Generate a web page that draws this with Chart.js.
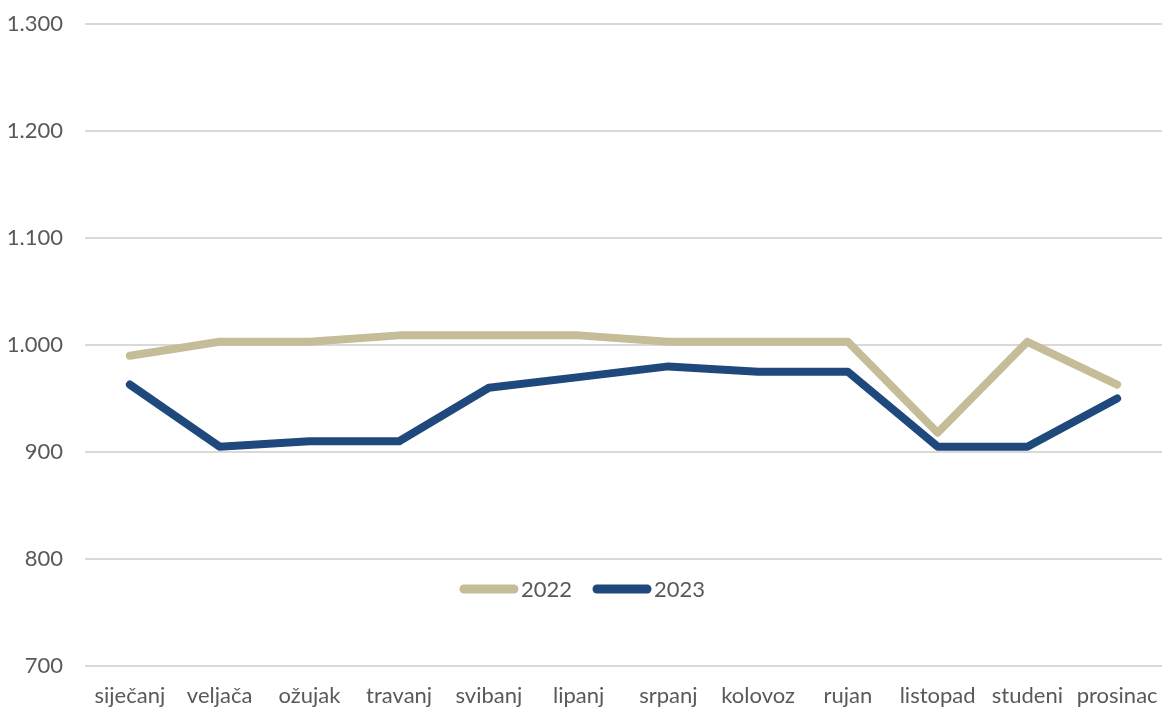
<!DOCTYPE html>
<html><head><meta charset="utf-8">
<script src="https://cdn.jsdelivr.net/npm/chart.js@4/dist/chart.umd.min.js"></script>
<style>html,body{margin:0;padding:0;background:#fff}#wrap{width:1165px;height:711px}</style>
</head><body><div id="wrap"><canvas id="c" width="1165" height="711"></canvas></div>
<script>
const categories = ["siječanj","veljača","ožujak","travanj","svibanj","lipanj","srpanj","kolovoz","rujan","listopad","studeni","prosinac"];
const seriesNames = ["2022","2023"];
const values2022 = [990,1003,1003,1009,1009,1009,1003,1003,1003,918,1003,963];
const values2023 = [963,905,910,910,960,970,980,975,975,905,905,950];
const yMin = 700, yMax = 1300, yStep = 100;

const FONT = "Lato, 'Open Sans', sans-serif";
const TEXT = "#595959";

const legendPlugin = {
  id: 'innerLegend',
  afterDraw(chart) {
    const ctx = chart.ctx;
    const y = chart.scales.y.getPixelForValue(772);
    ctx.save();
    ctx.font = "22px " + FONT;
    const lineLen = 58, gapText = 3, gapItem = 21;
    const items = chart.data.datasets.map(d => ({label: d.label, color: d.borderColor, w: ctx.measureText(d.label).width}));
    let total = 0;
    items.forEach((it, i) => { total += lineLen + gapText + it.w + (i ? gapItem : 0); });
    let x = chart.width / 2 - total / 2;
    items.forEach((it) => {
      ctx.strokeStyle = it.color;
      ctx.lineWidth = 9;
      ctx.lineCap = 'round';
      ctx.beginPath();
      ctx.moveTo(x + 4, y);
      ctx.lineTo(x + lineLen - 4, y);
      ctx.stroke();
      x += lineLen + gapText;
      ctx.fillStyle = TEXT;
      ctx.textBaseline = 'middle';
      ctx.textAlign = 'left';
      ctx.fillText(it.label, x, y + 1);
      x += it.w + gapItem;
    });
    ctx.restore();
  }
};

new Chart(document.getElementById('c'), {
  type: 'line',
  data: {
    labels: categories,
    datasets: [
      {label: seriesNames[0], data: values2022, borderColor: '#C4BD97', backgroundColor: '#C4BD97', borderWidth: 8, pointRadius: 0, borderCapStyle: 'round', borderJoinStyle: 'round', tension: 0},
      {label: seriesNames[1], data: values2023, borderColor: '#1F497D', backgroundColor: '#1F497D', borderWidth: 8, pointRadius: 0, borderCapStyle: 'round', borderJoinStyle: 'round', tension: 0}
    ]
  },
  options: {
    responsive: false,
    animation: false,
    devicePixelRatio: 1,
    layout: {padding: {top: 24, right: 3, bottom: 0, left: 0}},
    plugins: {legend: {display: false}, tooltip: {enabled: false}},
    scales: {
      x: {
        offset: true,
        grid: {display: false, drawTicks: false},
        border: {display: false},
        afterFit(s) { s.height = 45; s.paddingLeft = 0; s.paddingRight = 0; },
        ticks: {color: TEXT, font: {family: FONT, size: 22}, padding: 17, maxRotation: 0, autoSkip: false}
      },
      y: {
        min: yMin, max: yMax,
        grid: {color: '#D9D9D9', lineWidth: 2, drawTicks: false},
        border: {display: false},
        afterFit(s) { s.width = 85; s.paddingTop = 0; s.paddingBottom = 0; },
        ticks: {stepSize: yStep, color: TEXT, font: {family: FONT, size: 22}, padding: 22,
          callback: v => v.toLocaleString('de-DE')}
      }
    }
  },
  plugins: [legendPlugin]
});
</script>
</body></html>
